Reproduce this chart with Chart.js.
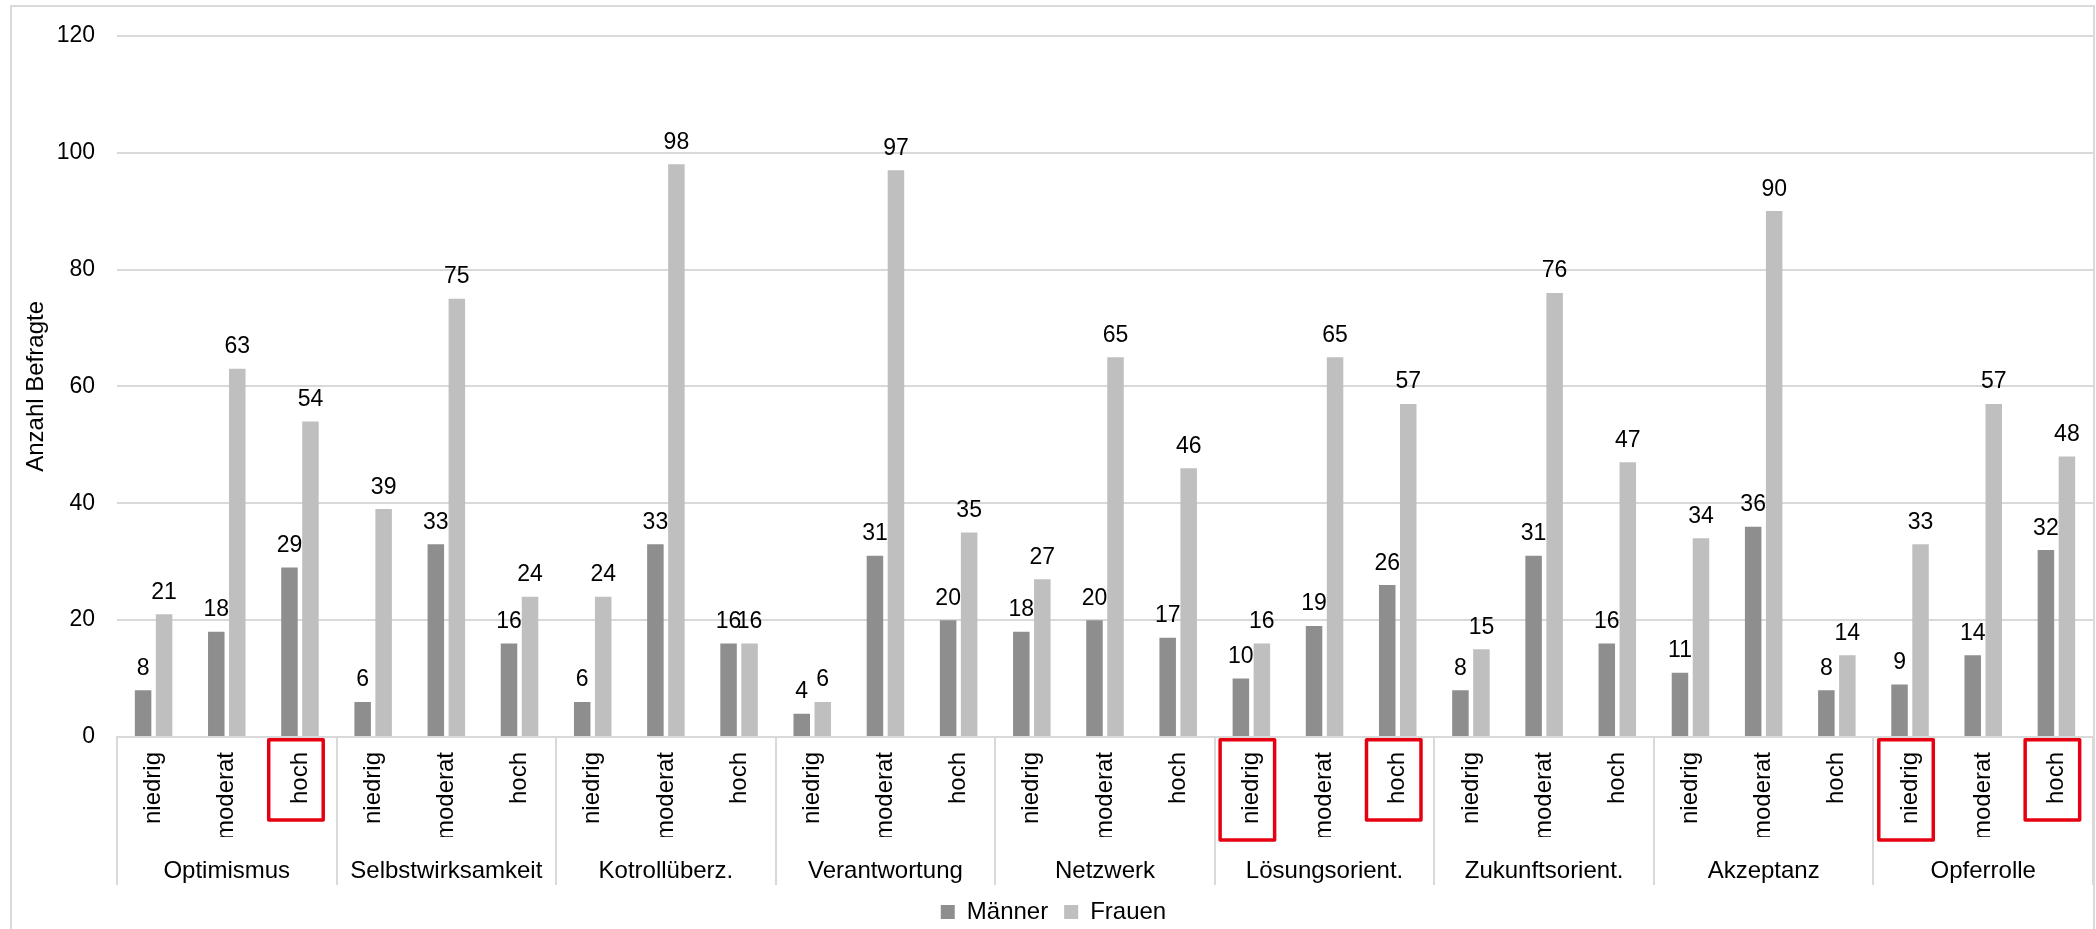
<!DOCTYPE html>
<html lang="de">
<head>
<meta charset="utf-8">
<title>Resilienzfaktoren nach Geschlecht</title>
<script src="https://cdn.jsdelivr.net/npm/chart.js@4/dist/chart.umd.min.js"></script>
<style>
  html, body { margin: 0; padding: 0; background: #fff; overflow: hidden; }
  #wrap { position: relative; width: 2096px; height: 929px; }
  #frame {
    position: absolute; left: 10px; top: 5px; width: 2085px; height: 1000px;
    border: 2px solid #d9d9d9; box-sizing: border-box; pointer-events: none;
  }
  canvas { display: block; }
</style>
</head>
<body>
<div id="wrap">
  <canvas id="chart" width="2096" height="929"></canvas>
  <div id="frame"></div>
</div>
<script>
// Resilience factors, split into low / moderate / high, respondents by gender
const groups = ['Optimismus', 'Selbstwirksamkeit', 'Kotrollüberz.', 'Verantwortung', 'Netzwerk',
                'Lösungsorient.', 'Zukunftsorient.', 'Akzeptanz', 'Opferrolle'];
const levels = ['niedrig', 'moderat', 'hoch'];

const maenner = [8, 18, 29,  6, 33, 16,  6, 33, 16,  4, 31, 20,  18, 20, 17,
                 10, 19, 26,  8, 31, 16,  11, 36, 8,  9, 14, 32];
const frauen  = [21, 63, 54,  39, 75, 24,  24, 98, 16,  6, 97, 35,  27, 65, 46,
                 16, 65, 57,  15, 76, 47,  34, 90, 14,  33, 57, 48];

const yTicks = [0, 20, 40, 60, 80, 100, 120];

// Level labels outlined in red (group, level)
const marked = [['Optimismus', 'hoch'], ['Lösungsorient.', 'niedrig'], ['Lösungsorient.', 'hoch'],
                ['Opferrolle', 'niedrig'], ['Opferrolle', 'hoch']];

const FAMILY = '"Liberation Sans", Arial, Helvetica, sans-serif';
const TEXT = '#000000';
const GRID = '#d9d9d9';
const textFont = { family: FAMILY, size: 24 };
const numFont = { family: FAMILY, size: 23 };

const categoryLabels = groups.flatMap(() => levels);

// Value labels above each bar
const valueLabels = {
  id: 'valueLabels',
  afterDatasetsDraw(chart) {
    const ctx = chart.ctx;
    ctx.save();
    ctx.font = numFont.size + 'px ' + FAMILY;
    ctx.fillStyle = TEXT;
    ctx.textAlign = 'center';
    ctx.textBaseline = 'alphabetic';
    chart.data.datasets.forEach((ds, di) => {
      chart.getDatasetMeta(di).data.forEach((bar, i) => {
        ctx.fillText(String(ds.data[i]), bar.x, bar.y - 15.5);
      });
    });
    ctx.restore();
  }
};

// Red outlines around selected level labels
const tickOutlines = {
  id: 'tickOutlines',
  afterDraw(chart) {
    const sx = chart.scales.x;
    const ctx = chart.ctx;
    ctx.save();
    ctx.font = textFont.size + 'px ' + FAMILY;
    ctx.strokeStyle = '#e60012';
    ctx.lineWidth = 3.5;
    ctx.lineJoin = 'round';
    marked.forEach(([g, l]) => {
      const i = groups.indexOf(g) * levels.length + levels.indexOf(l);
      const cx = sx.getPixelForTick(i) - 4;
      const w = ctx.measureText(l).width;
      const top = sx.top + 2.75;
      const bottom = sx.top + 15 + w + 16;
      ctx.strokeRect(cx - 27.25, top, 54.5, bottom - top);
    });
    ctx.restore();
  }
};

new Chart(document.getElementById('chart'), {
  type: 'bar',
  data: {
    labels: categoryLabels,
    datasets: [
      { label: 'Männer', data: maenner, backgroundColor: '#8e8e8e', borderWidth: 0,
        categoryPercentage: 0.574, barPercentage: 0.786 },
      { label: 'Frauen', data: frauen, backgroundColor: '#bfbfbf', borderWidth: 0,
        categoryPercentage: 0.574, barPercentage: 0.786 }
    ]
  },
  options: {
    responsive: false,
    animation: false,
    devicePixelRatio: 1,
    layout: { padding: { top: 32, left: 14, right: 3, bottom: -5 } },
    plugins: {
      legend: {
        position: 'bottom',
        labels: { boxWidth: 14, boxHeight: 14, padding: 16, font: textFont, color: TEXT }
      },
      tooltip: { enabled: false },
      title: { display: false }
    },
    scales: {
      x: {
        type: 'category',
        position: 'bottom',
        weight: 0,
        offset: true,
        grid: {
          display: true, drawOnChartArea: false, offset: true, tickLength: 100, lineWidth: 2,
          color: c => (c.index === undefined || c.index % levels.length === 0) ? GRID : 'rgba(0,0,0,0)'
        },
        border: { display: true, color: GRID, width: 2 },
        ticks: { minRotation: 90, maxRotation: 90, autoSkip: false, padding: -85, font: textFont, color: TEXT },
        afterFit: s => { s.height = 100; }
      },
      x2: {
        type: 'category',
        position: 'bottom',
        weight: 1,
        labels: groups,
        offset: true,
        grid: { display: true, drawOnChartArea: false, offset: true, tickLength: 48, lineWidth: 2, color: GRID },
        border: { display: false },
        ticks: { minRotation: 0, maxRotation: 0, autoSkip: false, padding: -27.7, font: textFont, color: TEXT },
        afterFit: s => { s.height = 47; }
      },
      y: {
        min: 0,
        max: 120,
        afterBuildTicks: s => { s.ticks = yTicks.map(v => ({ value: v })); },
        ticks: { padding: 22, font: numFont, color: TEXT },
        grid: { color: GRID, lineWidth: 2, drawTicks: false },
        border: { display: false },
        title: { display: true, text: 'Anzahl Befragte', font: textFont, color: TEXT, padding: { top: 7.6, bottom: 0 } },
        afterFit: s => { s.width = 103; }
      }
    }
  },
  plugins: [valueLabels, tickOutlines]
});
</script>
</body>
</html>
